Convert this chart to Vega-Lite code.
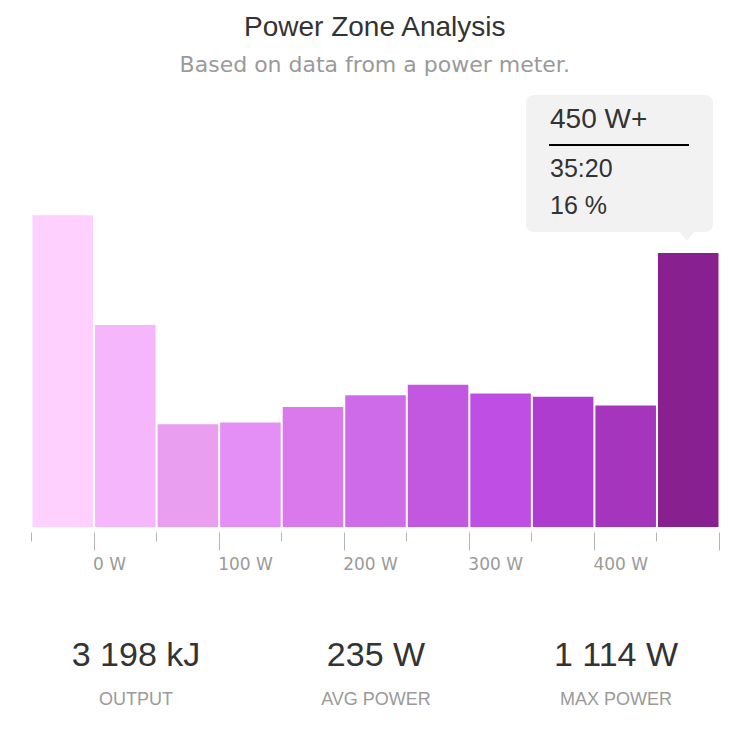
{
  "$schema": "https://vega.github.io/schema/vega-lite/v6.json",
  "padding": {"left": 30, "right": 32, "top": 14, "bottom": 0},
  "background": "white",
  "title": {
    "text": "Power Zone Analysis",
    "subtitle": "Based on data from a power meter.",
    "anchor": "middle",
    "font": "Liberation Sans",
    "fontSize": 28,
    "fontWeight": "normal",
    "color": "#333333",
    "subtitleFont": "DejaVu Sans",
    "subtitleFontSize": 22,
    "subtitleColor": "#9a9a9a",
    "subtitlePadding": 13,
    "offset": 16
  },
  "datasets": {
    "zones": [
      {"start": -50, "end": 0, "zone": "0 W", "pct": 18.2},
      {"start": 0, "end": 50, "zone": "0 W", "pct": 11.8},
      {"start": 50, "end": 100, "zone": "50 W", "pct": 6.0},
      {"start": 100, "end": 150, "zone": "100 W", "pct": 6.1},
      {"start": 150, "end": 200, "zone": "150 W", "pct": 7.0},
      {"start": 200, "end": 250, "zone": "200 W", "pct": 7.7},
      {"start": 250, "end": 300, "zone": "250 W", "pct": 8.3},
      {"start": 300, "end": 350, "zone": "300 W", "pct": 7.8},
      {"start": 350, "end": 400, "zone": "350 W", "pct": 7.6},
      {"start": 400, "end": 450, "zone": "400 W", "pct": 7.1},
      {"start": 450, "end": 500, "zone": "450 W+", "pct": 16, "time": "35:20"}
    ],
    "stats": [
      {"slot": 0, "kind": "value", "text": "3 198 kJ"},
      {"slot": 0, "kind": "label", "text": "OUTPUT"},
      {"slot": 1, "kind": "value", "text": "235 W"},
      {"slot": 1, "kind": "label", "text": "AVG POWER"},
      {"slot": 2, "kind": "value", "text": "1 114 W"},
      {"slot": 2, "kind": "label", "text": "MAX POWER"}
    ]
  },
  "vconcat": [
    {
      "width": 688,
      "height": 435,
      "data": {"name": "zones"},
      "layer": [
        {
          "mark": {"type": "bar", "binSpacing": 2},
          "encoding": {
            "x": {
              "field": "start",
              "type": "quantitative",
              "bin": {"binned": true, "step": 50},
              "scale": {"domain": [-50, 500], "nice": false, "zero": false},
              "axis": {
                "title": null,
                "domain": false,
                "grid": false,
                "offset": 5,
                "values": [-50, 0, 50, 100, 150, 200, 250, 300, 350, 400, 450, 500],
                "tickColor": "#b5b5b5",
                "tickWidth": 1,
                "tickSize": {
                  "condition": {"test": "datum.value % 100 == 0", "value": 18},
                  "value": 9
                },
                "labelExpr": "datum.value >= 0 && datum.value <= 400 && datum.value % 100 == 0 ? datum.value + ' W' : ''",
                "labelAlign": "left",
                "labelBaseline": "top",
                "labelOffset": -1,
                "labelPadding": 6,
                "labelFlush": false,
                "labelOverlap": false,
                "labelBound": false,
                "labelFont": "DejaVu Sans",
                "labelFontSize": 17,
                "labelColor": "#9a9a9a"
              }
            },
            "x2": {"field": "end"},
            "y": {
              "field": "pct",
              "type": "quantitative",
              "scale": {"domain": [0, 25.4], "nice": false},
              "axis": null
            },
            "color": {
              "field": "start",
              "type": "ordinal",
              "legend": null,
              "scale": {
                "domain": [-50, 0, 50, 100, 150, 200, 250, 300, 350, 400, 450],
                "range": ["#fdd0fd", "#f6b6fb", "#ea9ef0", "#e48ff5", "#d979eb", "#cd6be8", "#c257e0", "#bf4fe4", "#ad3ccf", "#a535bd", "#88208f"]
              }
            }
          }
        },
        {
          "transform": [{"filter": "datum.start == 450"}],
          "mark": {"type": "rect", "color": "#f2f2f2", "cornerRadius": 8},
          "encoding": {
            "x": {"datum": 345.7, "type": "quantitative"},
            "x2": {"datum": 495.2},
            "y": {"datum": 25.23, "type": "quantitative"},
            "y2": {"datum": 17.23}
          }
        },
        {
          "transform": [{"filter": "datum.start == 450"}],
          "mark": {"type": "point", "shape": "M-1,-0.6L1,-0.6L0,0.6Z", "filled": true, "color": "#f2f2f2", "opacity": 1, "size": 256},
          "encoding": {
            "x": {"datum": 474.4, "type": "quantitative"},
            "y": {"datum": 16.99, "type": "quantitative"}
          }
        },
        {
          "transform": [{"filter": "datum.start == 450"}],
          "mark": {"type": "rule", "color": "#000000", "strokeWidth": 2},
          "encoding": {
            "x": {"datum": 364.1, "type": "quantitative"},
            "x2": {"datum": 476},
            "y": {"datum": 22.31, "type": "quantitative"}
          }
        },
        {
          "transform": [{"filter": "datum.start == 450"}],
          "mark": {"type": "text", "align": "left", "baseline": "alphabetic", "font": "Liberation Sans", "fontSize": 28, "color": "#333333"},
          "encoding": {
            "x": {"datum": 364.9, "type": "quantitative"},
            "y": {"datum": 23.3, "type": "quantitative"},
            "text": {"field": "zone"}
          }
        },
        {
          "transform": [{"filter": "datum.start == 450"}],
          "mark": {"type": "text", "align": "left", "baseline": "alphabetic", "font": "Liberation Sans", "fontSize": 25, "color": "#333333"},
          "encoding": {
            "x": {"datum": 364.9, "type": "quantitative"},
            "y": {"datum": 20.44, "type": "quantitative"},
            "text": {"field": "time"}
          }
        },
        {
          "transform": [
            {"filter": "datum.start == 450"},
            {"calculate": "datum.pct + ' %'", "as": "share"}
          ],
          "mark": {"type": "text", "align": "left", "baseline": "alphabetic", "font": "Liberation Sans", "fontSize": 25, "color": "#333333"},
          "encoding": {
            "x": {"datum": 364.9, "type": "quantitative"},
            "y": {"datum": 18.28, "type": "quantitative"},
            "text": {"field": "share"}
          }
        }
      ]
    },
    {
      "width": 688,
      "height": 88,
      "data": {"name": "stats"},
      "encoding": {
        "x": {
          "field": "slot",
          "type": "quantitative",
          "scale": {"domain": [-0.4375, 2.4292], "nice": false, "zero": false},
          "axis": null
        },
        "y": {
          "field": "kind",
          "type": "nominal",
          "scale": {"type": "point", "domain": ["value", "label"], "padding": 0.5},
          "axis": null
        },
        "text": {"field": "text"}
      },
      "layer": [
        {
          "transform": [{"filter": "datum.kind == 'value'"}],
          "mark": {"type": "text", "font": "Liberation Sans", "fontSize": 34, "color": "#333333", "baseline": "middle", "align": "center"}
        },
        {
          "transform": [{"filter": "datum.kind == 'label'"}],
          "mark": {"type": "text", "font": "Liberation Sans", "fontSize": 18, "letterSpacing": 1.5, "color": "#9a9a9a", "baseline": "middle", "align": "center"}
        }
      ]
    }
  ],
  "resolve": {"scale": {"color": "independent", "x": "independent", "y": "independent"}},
  "spacing": 62,
  "config": {
    "view": {"stroke": null},
    "font": "Liberation Sans"
  }
}
